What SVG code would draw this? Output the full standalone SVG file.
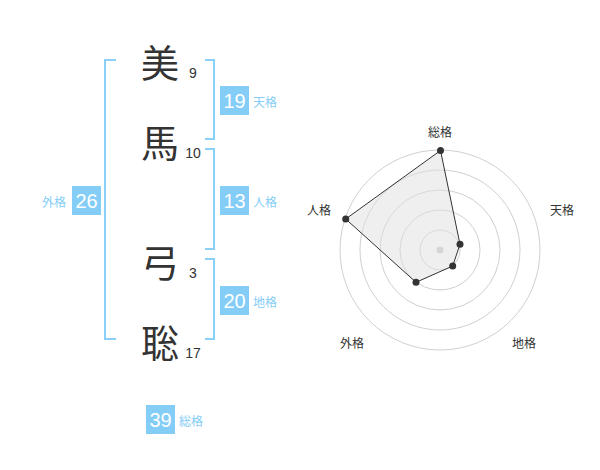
<svg xmlns="http://www.w3.org/2000/svg" width="600" height="470" viewBox="0 0 600 470">
<style>
.k{font-family:"Noto Sans CJK JP","Noto Sans",sans-serif;font-size:38px;fill:#333;text-anchor:middle;dominant-baseline:central}
.n{font-family:"Liberation Sans",Arial,sans-serif;font-size:14px;fill:#333;text-anchor:middle}
.br{fill:none;stroke:#8ad0f8;stroke-width:2}
.bx{fill:#84cdf7}
.bn{font-family:"Liberation Sans",Arial,sans-serif;font-size:20px;fill:#fff;text-anchor:middle;dominant-baseline:central}
.bl{font-family:"Noto Sans CJK JP","Noto Sans",sans-serif;font-size:12px;fill:#84cdf7;dominant-baseline:central}
.ax{font-family:"Noto Sans CJK JP","Noto Sans",sans-serif;font-size:12px;fill:#333;text-anchor:middle;dominant-baseline:central}
.rc{fill:none;stroke:#d0d0d0;stroke-width:1}
</style>
<rect width="600" height="470" fill="#fff"/>
<g id="connectors">
<path class="br" d="M116,60 H105 V339 H116"/>
<path class="br" d="M205,60 H214 V139 H205"/>
<path class="br" d="M205,149 H214 V249 H205"/>
<path class="br" d="M205,259 H214 V339 H205"/>
</g>
<g id="char1"><text class="k" x="160" y="60">美</text><text class="n" x="193" y="78">9</text></g>
<g id="char2"><text class="k" x="160" y="140">馬</text><text class="n" x="193" y="158">10</text></g>
<g id="char3"><text class="k" x="160" y="260">弓</text><text class="n" x="193" y="278">3</text></g>
<g id="char4"><text class="k" x="160" y="340">聡</text><text class="n" x="193" y="358">17</text></g>
<g id="tenkaku"><rect class="bx" x="220" y="86" width="29" height="29"/><text class="bn" x="234.5" y="101">19</text><text class="bl" x="253" y="101">天格</text></g>
<g id="jinkaku"><rect class="bx" x="220" y="186" width="29" height="29"/><text class="bn" x="234.5" y="201">13</text><text class="bl" x="253" y="201">人格</text></g>
<g id="chikaku"><rect class="bx" x="220" y="286" width="29" height="29"/><text class="bn" x="234.5" y="301">20</text><text class="bl" x="253" y="301">地格</text></g>
<g id="gaikaku"><rect class="bx" x="72" y="186" width="29" height="29"/><text class="bn" x="86.5" y="201">26</text><text class="bl" x="66" y="201" text-anchor="end">外格</text></g>
<g id="soukaku"><rect class="bx" x="146" y="405" width="29" height="29"/><text class="bn" x="160.5" y="420">39</text><text class="bl" x="179" y="420">総格</text></g>
<g id="radar">
<circle class="rc" cx="440" cy="250" r="20"/>
<circle class="rc" cx="440" cy="250" r="40"/>
<circle class="rc" cx="440" cy="250" r="60"/>
<circle class="rc" cx="440" cy="250" r="80"/>
<circle class="rc" cx="440" cy="250" r="100"/>
<circle cx="440" cy="250" r="3.5" fill="#ccc"/>
<polygon points="440.5,150.5 460,244.3 452.7,266 416,282.3 345.7,219" fill="#e0e0e0" fill-opacity="0.5" stroke="#333" stroke-width="1"/>
<g fill="#333">
<circle cx="440.5" cy="150.5" r="3.5"/>
<circle cx="460" cy="244.3" r="3.5"/>
<circle cx="452.7" cy="266" r="3.5"/>
<circle cx="416" cy="282.3" r="3.5"/>
<circle cx="345.7" cy="219" r="3.5"/>
</g>
<text class="ax" x="440" y="131">総格</text>
<text class="ax" x="562" y="209">天格</text>
<text class="ax" x="524" y="342">地格</text>
<text class="ax" x="352" y="342">外格</text>
<text class="ax" x="319" y="209">人格</text>
</g>
</svg>
